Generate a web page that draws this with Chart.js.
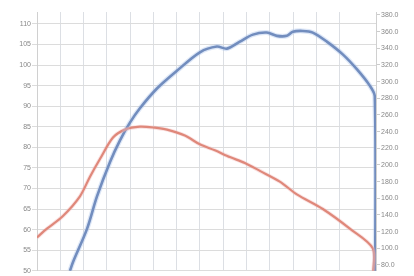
<!DOCTYPE html>
<html>
<head>
<meta charset="utf-8">
<script src="https://cdn.jsdelivr.net/npm/chart.js@4/dist/chart.umd.min.js"></script>
<style>
  html, body { margin: 0; padding: 0; background: #fff; }
  #wrap { width: 414px; height: 276px; position: relative; }
</style>
</head>
<body>
<div id="wrap"><canvas id="dyno"></canvas></div>
<script>
// rpm / power (left axis)
const powerRpm = [2354, 2386, 2537, 2644, 2783, 2891, 2998, 3105, 3288, 3502, 3749, 3931, 4039, 4178, 4318, 4468, 4575, 4683, 4747, 4854, 4961, 5112, 5283, 5434, 5573, 5627, 5632];
const powerVals = [50.0, 52.1, 60.2, 68.1, 76.4, 81.7, 86.0, 89.5, 94.3, 98.6, 103.1, 104.5, 104.0, 105.7, 107.4, 107.9, 107.1, 107.1, 108.1, 108.3, 107.9, 105.7, 102.6, 99.0, 95.0, 92.4, 48.0];

// rpm / torque (right axis)
const torqueRpm = [2000, 2107, 2279, 2461, 2569, 2676, 2816, 2944, 3105, 3266, 3395, 3588, 3749, 3910, 4071, 4232, 4393, 4607, 4790, 5069, 5359, 5605, 5610];
const torqueVals = [113.0, 123.5, 138.8, 162.4, 185.9, 207.1, 232.9, 242.4, 245.9, 244.7, 242.4, 235.3, 224.7, 217.6, 209.4, 202.4, 192.9, 180.0, 164.7, 147.1, 123.5, 100.0, 70.0];

const leftTicks = [50, 55, 60, 65, 70, 75, 80, 85, 90, 95, 100, 105, 110];
const rightTicks = [80, 100, 120, 140, 160, 180, 200, 220, 240, 260, 280, 300, 320, 340, 360, 380];

function points(xs, ys) {
  return xs.map((x, i) => ({ x, y: ys[i] }));
}

function line(data, color, width, axis) {
  return {
    data,
    yAxisID: axis,
    borderColor: color,
    borderWidth: width,
    pointRadius: 0,
    tension: 0.3,
    fill: false
  };
}

const tickFont = { family: "Liberation Sans", size: 7 };

new Chart(document.getElementById("dyno"), {
  type: "line",
  data: {
    datasets: [
      line(points(torqueRpm, torqueVals), "rgba(240,175,175,0.35)", 4, "yR"),
      line(points(powerRpm, powerVals), "rgba(170,195,235,0.4)", 5, "yL"),
      line(points(torqueRpm, torqueVals), "#d6735f", 2.2, "yR"),
      line(points(powerRpm, powerVals), "#4d69a0", 2.6, "yL")
    ]
  },
  options: {
    responsive: true,
    maintainAspectRatio: false,
    animation: false,
    layout: { padding: { top: 12, left: 0, right: 0, bottom: 0 } },
    plugins: { legend: { display: false }, tooltip: { enabled: false } },
    scales: {
      x: {
        type: "linear",
        min: 2000,
        max: 5640,
        afterFit: s => { s.height = 0; },
        ticks: { display: false, stepSize: 250 },
        grid: { color: "#dcdfe4", drawTicks: false },
        border: { display: false }
      },
      yL: {
        position: "left",
        min: 50,
        max: 112.9,
        afterBuildTicks: s => { s.ticks = leftTicks.map(value => ({ value })); },
        afterFit: s => { s.width = 37; },
        ticks: { color: "#888", font: tickFont, padding: 1, autoSkip: false },
        grid: { color: "#dcdcdc", tickLength: 5 },
        border: { color: "#d0d0d0" }
      },
      yR: {
        position: "right",
        min: 73,
        max: 383.5,
        afterBuildTicks: s => { s.ticks = rightTicks.map(value => ({ value })); },
        afterFit: s => { s.width = 38; },
        ticks: { color: "#888", font: tickFont, padding: 1, autoSkip: false, callback: v => v.toFixed(1) },
        grid: { drawOnChartArea: false, color: "#cccccc", tickLength: 4 },
        border: { color: "#d0d0d0" }
      }
    }
  }
});
</script>
</body>
</html>
